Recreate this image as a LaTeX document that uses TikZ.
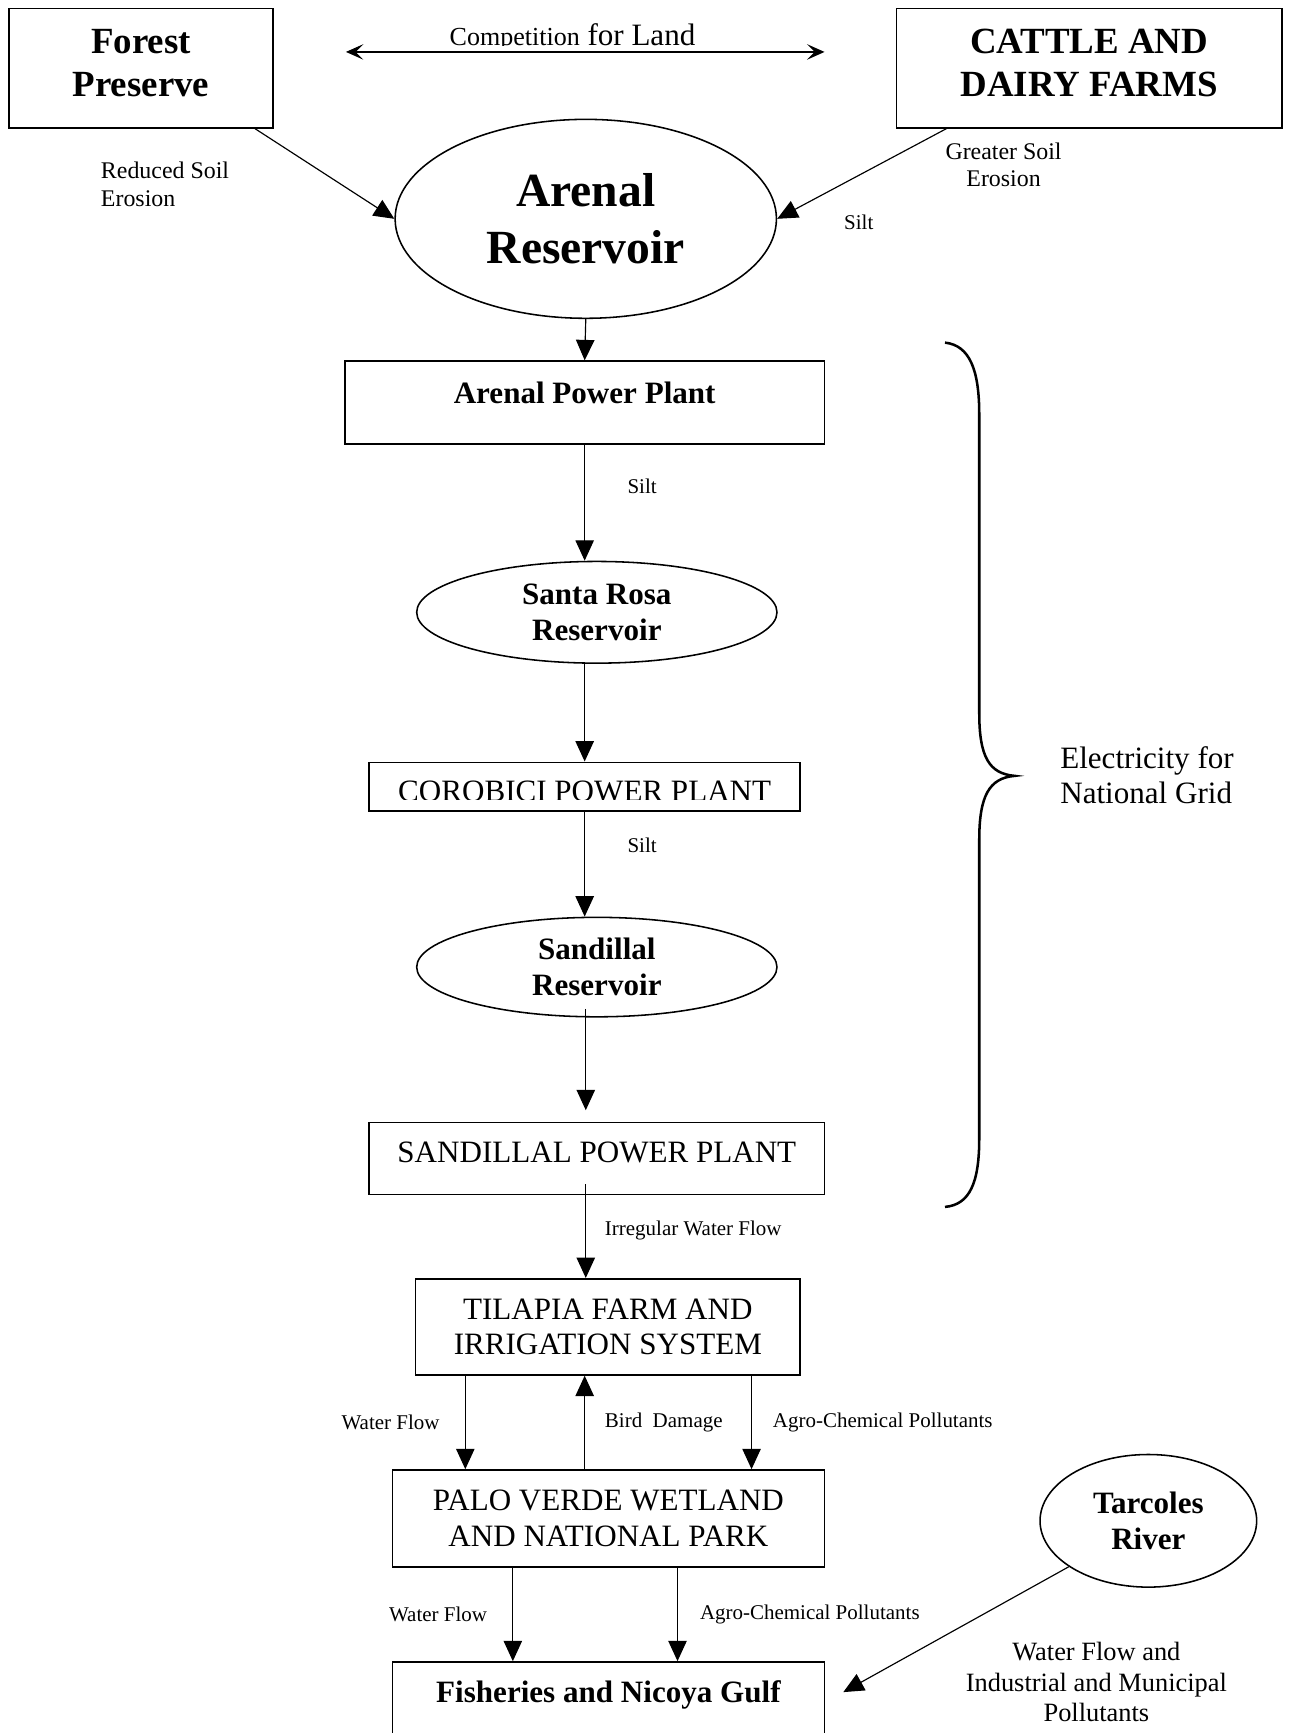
\documentclass[tikz,border=0pt]{standalone}
\usepackage{fontspec}
\setmainfont{Liberation Serif}
\usetikzlibrary{arrows.meta,shapes.geometric}

\newcommand{\fontHead}{\fontsize{19}{22.2}\selectfont\bfseries}
\newcommand{\fontRes}{\fontsize{24.5}{29}\selectfont\bfseries}
\newcommand{\fontMid}{\fontsize{16}{18.4}\selectfont}
\newcommand{\fontSoil}{\fontsize{12.3}{14.2}\selectfont}
\newcommand{\fontLand}{\fontsize{13.6}{15.6}\selectfont}
\newcommand{\fontNote}{\fontsize{10.8}{12.6}\selectfont}

\tikzset{
  box/.style={draw, line width=0.8pt, inner sep=0pt, align=center},
  pool/.style={draw, ellipse, line width=0.8pt, inner sep=0pt, align=center},
  flow/.style={-{Triangle[length=10.5pt,width=9.5pt]}, line width=0.6pt},
  note/.style={font=\fontNote, inner sep=0pt},
}

\begin{document}
\begin{tikzpicture}
  \useasboundingbox (0,0) rectangle (23.4,-31.36);

  % top row
  \node [box, anchor=north, minimum width=4.78cm, text height=1.6cm, text depth=0.56cm, font=\fontHead] (fp) at (2.55,-0.14) {Forest\\Preserve};
  \node [box, anchor=north, minimum width=6.98cm, text height=1.6cm, text depth=0.56cm, font=\fontHead] (cf) at (19.71,-0.14) {CATTLE AND\\DAIRY FARMS};

  \begin{scope}
    \clip (5,0) rectangle (16,-0.815);
    \node [font=\fontsize{16}{18}\selectfont, anchor=base, inner sep=0pt] (land) at (10.36,-0.832) {{\fontsize{13.4}{15}\selectfont Competition} for Land};
  \end{scope}
  \coordinate (landl) at (6.26,-0.94);
  \coordinate (landr) at (14.92,-0.94);
  \draw [{Stealth[length=9pt,width=8pt,inset=4pt]}-{Stealth[length=9pt,width=8pt,inset=4pt]}, line width=0.6pt] (landl) -- (landr);

  \node [pool, minimum width=6.9cm, minimum height=3.6cm, font=\fontRes] (ar) at (10.6,-3.96) {Arenal\\Reservoir};
  \draw [flow] ([xshift=-0.34cm]fp.south east) -- (ar.west);
  \draw [flow] ([xshift=0.92cm]cf.south west) -- (ar.east);

  \node [note, font=\fontSoil, anchor=west, align=left] (lreduced) at (1.82,-3.34) {Reduced Soil\\Erosion};
  \node [note, font=\fontSoil, align=center] (lgreater) at (18.16,-2.98) {Greater Soil\\Erosion};
  \node [note] (lsilt) at (15.54,-4.02) {Silt};

  % power chain
  \node [box, anchor=north, minimum width=8.68cm, text height=0.76cm, text depth=0.74cm, font=\fontMid\bfseries] (app) at (10.58,-6.52) {Arenal Power Plant};
  \draw [flow] (ar.south) -- (app.north);

  \node [pool, minimum width=6.52cm, minimum height=1.84cm, font=\fontMid\bfseries] (sr) at (10.8,-11.08) {Santa Rosa\\Reservoir};
  \draw [flow] (app.south) -- (app.south |- sr.north);
  \node [note] (lsilt2) at (11.62,-8.8) {Silt};

  \node [box, anchor=north, minimum width=7.8cm, text height=0.71cm, text depth=0.17cm, font=\fontMid] (cpp) at (10.58,-13.78) {COROBICI POWER PLANT};
  \fill [white] ([shift={(0.05,0.05)}]cpp.south west) rectangle ([shift={(-0.05,0.22)}]cpp.south east);
  \draw [flow] (cpp.north |- sr.south) -- (cpp.north);

  \node [pool, minimum width=6.52cm, minimum height=1.8cm, font=\fontMid\bfseries] (sdr) at (10.8,-17.5) {Sandillal\\Reservoir};
  \draw [flow] (cpp.south) -- (cpp.south |- sdr.north);
  \node [note] (lsilt3) at (11.62,-15.3) {Silt};

  \node [box, anchor=north, minimum width=8.24cm, text height=0.72cm, text depth=0.58cm, font=\fontMid] (spp) at (10.8,-20.3) {SANDILLAL POWER PLANT};
  \draw [flow, shorten <=-0.16cm, shorten >=0.21cm] ([xshift=-0.2cm]sdr.south) -- ([xshift=-0.2cm]spp.north);

  % electricity brace
  \draw [line width=1.3pt] (17.1,-6.2) .. controls (17.55,-6.25) and (17.72,-6.7) .. (17.72,-7.5)
    -- (17.72,-12.9) .. controls (17.72,-13.7) and (17.9,-14.0) .. (18.36,-14.04)
    .. controls (17.9,-14.08) and (17.72,-14.4) .. (17.72,-15.2)
    -- (17.72,-20.6) .. controls (17.72,-21.4) and (17.55,-21.8) .. (17.1,-21.84);
  \node [anchor=west, align=left, inner sep=0pt, font=\fontMid] (grid) at (19.18,-14.03) {Electricity for\\National Grid};

  % lower part
  \node [box, minimum width=6.96cm, minimum height=1.74cm, font=\fontMid] (tfi) at (11.0,-24.01) {TILAPIA FARM AND\\IRRIGATION SYSTEM};
  \draw [flow, shorten <=-0.2cm] (10.6,0 |- spp.south) -- (10.6,0 |- tfi.north);
  \node [note, anchor=west] (lirreg) at (10.94,-22.26) {Irregular Water Flow};

  \node [box, minimum width=7.82cm, minimum height=1.76cm, font=\fontMid] (pv) at (11.01,-27.48) {PALO VERDE WETLAND\\AND NATIONAL PARK};
  \draw [flow] (8.42,0 |- tfi.south) -- (8.42,0 |- pv.north);
  \draw [flow] (10.58,0 |- pv.north) -- (10.58,0 |- tfi.south);
  \draw [flow] (13.6,0 |- tfi.south) -- (13.6,0 |- pv.north);
  \node [note, anchor=east] (lwater) at (7.96,-25.74) {Water Flow};
  \node [note, anchor=west] (lbird) at (10.94,-25.74) {Bird\ \ Damage};
  \node [note, anchor=west] (lagro) at (13.98,-25.74) {Agro-Chemical Pollutants};

  \node [box, anchor=north, minimum width=7.82cm, inner ysep=0.3cm, text height=0.44cm, text depth=2cm, font=\fontMid\bfseries] (fg) at (11.01,-30.06) {Fisheries and Nicoya Gulf};
  \draw [flow] (9.28,0 |- pv.south) -- (9.28,0 |- fg.north);
  \draw [flow] (12.26,0 |- pv.south) -- (12.26,0 |- fg.north);
  \node [note, anchor=east] (lwater2) at (8.82,-29.22) {Water Flow};
  \node [note, anchor=west] (lagro2) at (12.66,-29.22) {Agro-Chemical Pollutants};

  \node [pool, minimum width=3.92cm, minimum height=2.4cm, font=\fontMid\bfseries] (tr) at (20.78,-27.52) {Tarcoles\\River};
  \coordinate (fgin) at (15.26,-30.62);
  \draw [flow] (tr.210) -- (fgin);
  \node [note, font=\fontLand, align=center] (lriver) at (19.84,-30.44) {Water Flow and\\Industrial and Municipal\\Pollutants};
\end{tikzpicture}
\end{document}
